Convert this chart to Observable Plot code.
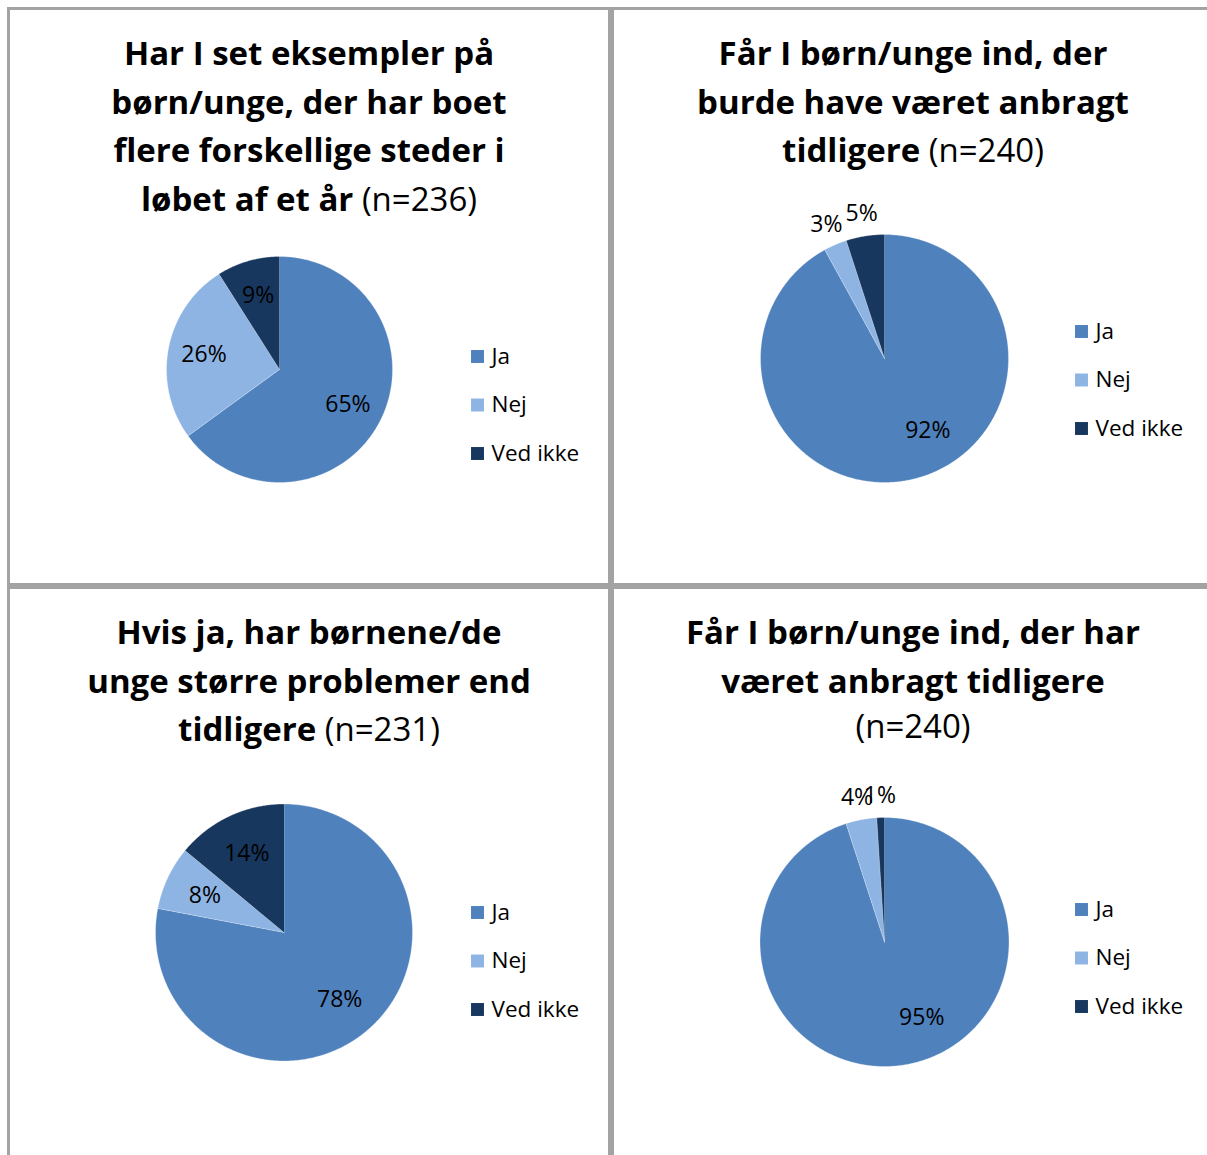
<!DOCTYPE html>
<html><head><meta charset="utf-8">
<script src="https://cdn.jsdelivr.net/npm/d3@7"></script>
<script src="https://cdn.jsdelivr.net/npm/@observablehq/plot@0.6"></script>
<style>
body{margin:0;width:1207px;height:1155px;overflow:hidden;background:#fff;position:relative;font-family:"Open Sans",sans-serif}
.panel{position:absolute;box-sizing:border-box;border:3px solid #a3a3a3;background:#fff;overflow:hidden}
.title{position:absolute;left:0;top:19px;width:598px;text-align:center;font-weight:700;font-size:33px;line-height:48.5px;color:#000;z-index:2}
.title .n{font-weight:400}
.panel svg{position:absolute;left:0;top:0}
</style></head><body>
<script>
// ---- data ----
const categories = ["Ja", "Nej", "Ved ikke"];
const colors = ["#4F81BD", "#8EB4E3", "#17375E"];

const chart1Values = [65, 26, 9];
const chart2Values = [92, 3, 5];
const chart3Values = [78, 8, 14];
const chart4Values = [95, 4, 1];

const chart1Title = ["Har I set eksempler på", "børn/unge, der har boet", "flere forskellige steder i", "løbet af et år"];
const chart2Title = ["Får I børn/unge ind, der", "burde have været anbragt", "tidligere"];
const chart3Title = ["Hvis ja, har børnene/de", "unge større problemer end", "tidligere"];
const chart4Title = ["Får I børn/unge ind, der har", "været anbragt tidligere"];

const chart1N = "(n=236)";
const chart2N = "(n=240)";
const chart3N = "(n=231)";
const chart4N = "(n=240)";

// ---- layout (styles/positions, not data) ----
const panels = [
  {left: 7, top: 7, h: 579, values: chart1Values, title: chart1Title, n: chart1N, nOwnLine: false, cx: 269, cy: 359, r: 113, legY: 346},
  {left: 611, top: 7, h: 579, values: chart2Values, title: chart2Title, n: chart2N, nOwnLine: false, cx: 270, cy: 348, r: 124, legY: 321},
  {left: 7, top: 586, h: 600, values: chart3Values, title: chart3Title, n: chart3N, nOwnLine: false, cx: 273.5, cy: 343, r: 128.5, legY: 323},
  {left: 611, top: 586, h: 600, values: chart4Values, title: chart4Title, n: chart4N, nOwnLine: true, cx: 270, cy: 352.5, r: 124.5, legY: 320}
];
const W = 598;
const legSquareX = 467, legTextX = 481, legStep = 48.5;

for (const p of panels) {
  const div = document.createElement("div");
  div.className = "panel";
  div.style.left = p.left + "px";
  div.style.top = p.top + "px";
  div.style.width = "604px";
  div.style.height = p.h + "px";
  document.body.appendChild(div);

  const H = p.h - 6;
  const total = d3.sum(p.values);
  const pieData = [];
  const labels = [];
  let cum = 0;
  p.values.forEach((v, i) => {
    const a0 = cum / total * 2 * Math.PI;
    cum += v;
    const a1 = cum / total * 2 * Math.PI;
    const cat = categories[i];
    pieData.push({cat, x: p.cx, y: p.cy});
    const steps = Math.max(2, Math.ceil((a1 - a0) / (Math.PI / 360)));
    for (let k = 0; k <= steps; k++) {
      const a = a0 + (a1 - a0) * k / steps;
      pieData.push({cat, x: p.cx + p.r * Math.sin(a), y: p.cy - p.r * Math.cos(a)});
    }
    // large slice labels sit a little off the bisector toward the slice start, as in the original
    const am = v > 85 ? a0 + (a1 - a0) * 0.45 : (a0 + a1) / 2;
    const rr = v < 6 ? p.r * 1.18 : p.r * 0.68;
    labels.push({text: v + "%", x: p.cx + rr * Math.sin(am), y: p.cy - rr * Math.cos(am)});
  });
  const legend = categories.map((c, i) => ({cat: c, y: p.legY + i * legStep}));

  const svg = Plot.plot({
    width: W, height: H, margin: 0,
    x: {domain: [0, W], range: [0, W], axis: null},
    y: {domain: [0, H], range: [0, H], axis: null},
    color: {domain: categories, range: colors},
    style: {fontFamily: "'Open Sans', sans-serif", background: "transparent", color: "#000"},
    marks: [
      Plot.line(pieData, {x: "x", y: "y", z: "cat", fill: "cat", stroke: "#ffffff", strokeWidth: 0.5, strokeOpacity: 0.6, curve: "linear"}),
      Plot.text(labels, {x: "x", y: "y", text: "text", fontSize: 23, fill: "#000"}),
      Plot.dot(legend, {x: () => legSquareX, y: "y", symbol: "square", r: 7.3, fill: "cat", stroke: null}),
      Plot.text(legend, {x: () => legTextX, y: "y", text: "cat", textAnchor: "start", fontSize: 22.5, fill: "#000"})
    ]
  });
  div.appendChild(svg);

  const t = document.createElement("div");
  t.className = "title";
  p.title.forEach((line, i) => {
    const s = document.createElement("div");
    s.textContent = line;
    if (i === p.title.length - 1 && !p.nOwnLine) {
      const n = document.createElement("span");
      n.className = "n";
      n.textContent = " " + p.n;
      s.appendChild(n);
    }
    t.appendChild(s);
  });
  if (p.nOwnLine) {
    const s = document.createElement("div");
    s.className = "n";
    s.style.lineHeight = "42px";
    s.textContent = p.n;
    t.appendChild(s);
  }
  div.appendChild(t);
}
</script>
</body></html>
